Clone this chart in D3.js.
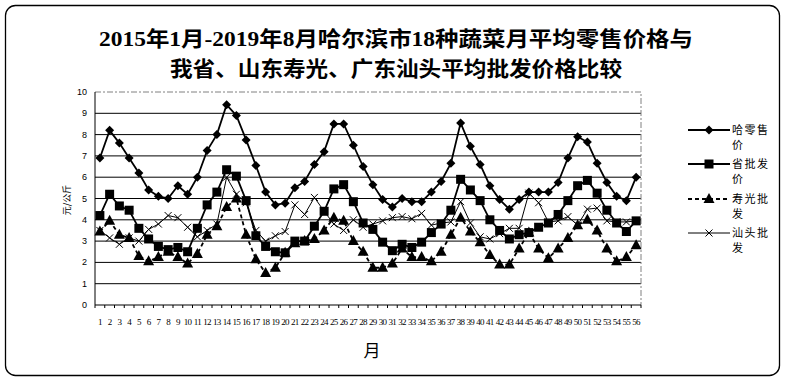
<!DOCTYPE html>
<html>
<head>
<meta charset="utf-8">
<script src="https://cdn.jsdelivr.net/npm/d3@7/dist/d3.min.js"></script>
<style>
  body { margin: 0; background: #fff; }
</style>
</head>
<body>
<svg id="chart" width="785" height="382"></svg>
<script>
// month index labels 1..56 (Jan 2015 - Aug 2019)
var months = d3.range(1, 57);

var retailHrb = [6.9, 8.2, 7.6, 6.9, 6.2, 5.4, 5.1, 5.0, 5.6, 5.2, 6.0, 7.25, 8.0, 9.4, 8.9, 7.75, 6.55, 5.3, 4.7, 4.78,
  5.5, 5.8, 6.6, 7.2, 8.5, 8.5, 7.5, 6.5, 5.65, 4.95, 4.6, 5.0, 4.85, 4.85, 5.3, 5.8, 6.65, 8.55, 7.45, 6.6,
  5.6, 4.95, 4.5, 4.95, 5.3, 5.3, 5.3, 5.75, 6.9, 7.9, 7.65, 6.65, 5.75, 5.1, 4.9, 6.0];

var wholesaleProv = [4.2, 5.2, 4.65, 4.45, 3.6, 3.1, 2.75, 2.6, 2.7, 2.5, 3.6, 4.7, 5.3, 6.35, 6.05, 4.9, 3.25, 2.75, 2.5, 2.45,
  3.0, 3.0, 3.7, 4.4, 5.45, 5.65, 4.85, 3.85, 3.55, 2.95, 2.55, 2.85, 2.7, 2.95, 3.4, 3.8, 4.45, 5.9, 5.4, 4.9,
  4.0, 3.5, 3.1, 3.3, 3.4, 3.65, 3.85, 4.25, 4.9, 5.6, 5.85, 5.25, 4.45, 3.85, 3.45, 3.95];

var wholesaleShouguang = [3.45, 3.95, 3.3, 3.15, 2.3, 2.05, 2.25, 2.5, 2.25, 1.95, 2.4, 3.3, 3.7, 4.6, 5.0, 3.3, 2.15, 1.5, 1.75, 2.45,
  2.9, 3.0, 3.1, 3.5, 4.1, 3.95, 3.0, 2.5, 1.75, 1.75, 1.95, 2.65, 2.25, 2.25, 2.05, 2.5, 3.3, 4.1, 3.45, 2.95,
  2.35, 1.9, 1.9, 2.65, 3.4, 2.65, 2.2, 2.65, 3.15, 3.75, 4.0, 3.5, 2.65, 2.05, 2.25, 2.8];

var wholesaleShantou = [3.5, 3.15, 2.85, 3.15, 3.0, 3.55, 3.8, 4.2, 4.1, 3.65, 3.2, 3.5, 3.8, 6.0, 5.2, 4.8, 3.5, 3.0, 3.25, 3.45,
  4.7, 4.25, 5.05, 4.4, 3.8, 3.5, 4.0, 3.65, 3.8, 3.95, 4.1, 4.15, 4.05, 4.3, 3.75, 3.85, 3.9, 4.85, 3.85, 3.2,
  3.1, 3.35, 3.6, 3.6, 5.25, 4.8, 3.9, 3.95, 4.15, 3.75, 4.5, 4.55, 3.95, 3.9, 3.9, 3.95];

var seriesNames = ["哈零售价", "省批发价", "寿光批发", "汕头批发"];
var yTicks = [0, 1, 2, 3, 4, 5, 6, 7, 8, 9, 10];

var titleLines = ["2015年1月-2019年8月哈尔滨市18种蔬菜月平均零售价格与", "我省、山东寿光、广东汕头平均批发价格比较"];

var svg = d3.select("#chart");

// outer frame
svg.append("rect")
  .attr("x", 5.5).attr("y", 5.5)
  .attr("width", 774).attr("height", 370)
  .attr("rx", 10).attr("ry", 10)
  .attr("fill", "#fff")
  .attr("stroke", "#000")
  .attr("stroke-width", 1.3);

// title
svg.selectAll(".title")
  .data(titleLines)
  .enter().append("text")
  .attr("class", "title")
  .attr("x", 396)
  .attr("y", function(d, i) { return 46 + i * 30; })
  .attr("text-anchor", "middle")
  .attr("font-family", "'Liberation Serif', 'Noto Sans CJK SC', serif")
  .attr("font-weight", "bold")
  .attr("font-size", 21)
  .attr("textLength", function(d, i) { return i == 0 ? 594 : 452; })
  .attr("lengthAdjust", "spacingAndGlyphs")
  .text(function(d) { return d; });

var plotL = 95, plotR = 641, plotT = 92, plotB = 305;

var x = d3.scaleBand()
  .domain(months)
  .range([plotL, plotR])
  .padding(0);

var y = d3.scaleLinear()
  .domain([0, 10])
  .range([plotB, plotT]);

var cx = function(i) { return x(months[i]) + x.bandwidth() / 2; };

// grid lines
svg.append("g")
  .selectAll("line")
  .data(yTicks.filter(function(t) { return t > 0 && t < 10; }))
  .enter().append("line")
  .attr("x1", plotL).attr("x2", plotR)
  .attr("y1", function(d) { return y(d); })
  .attr("y2", function(d) { return y(d); })
  .attr("stroke", "#000")
  .attr("stroke-width", 1);

// dashed plot border (top and right)
svg.append("path")
  .attr("d", "M" + plotL + "," + y(10) + "H" + plotR + "V" + plotB)
  .attr("fill", "none")
  .attr("stroke", "#808080")
  .attr("stroke-width", 1)
  .attr("stroke-dasharray", "6,2,2,2");

// y axis
svg.append("line")
  .attr("x1", plotL).attr("x2", plotL)
  .attr("y1", plotT).attr("y2", plotB)
  .attr("stroke", "#000");

svg.append("g")
  .selectAll("text")
  .data(yTicks)
  .enter().append("text")
  .attr("x", 87)
  .attr("y", function(d) { return y(d) + 3; })
  .attr("text-anchor", "end")
  .attr("font-family", "'Liberation Sans', Arial, sans-serif")
  .attr("font-size", 9)
  .text(function(d) { return d; });

svg.append("text")
  .attr("transform", "translate(70,200) rotate(-90)")
  .attr("text-anchor", "middle")
  .attr("font-family", "'Noto Sans CJK SC', sans-serif")
  .attr("font-size", 9)
  .text("元/公斤");

// x axis
svg.append("line")
  .attr("x1", plotL).attr("x2", plotR)
  .attr("y1", plotB).attr("y2", plotB)
  .attr("stroke", "#000")
  .attr("stroke-width", 1.2);

svg.append("g")
  .selectAll("line")
  .data(months.concat([57]))
  .enter().append("line")
  .attr("x1", function(d) { return d == 57 ? plotR : x(d); })
  .attr("x2", function(d) { return d == 57 ? plotR : x(d); })
  .attr("y1", plotB).attr("y2", plotB + 3)
  .attr("stroke", "#000");

svg.append("g")
  .selectAll("text")
  .data(months)
  .enter().append("text")
  .attr("x", function(d) { return x(d) + x.bandwidth() / 2; })
  .attr("y", 325)
  .attr("text-anchor", "middle")
  .attr("font-family", "'Liberation Serif', serif")
  .attr("font-size", 9)
  .attr("letter-spacing", -0.6)
  .text(function(d) { return d; });

svg.append("text")
  .attr("x", 372)
  .attr("y", 357)
  .attr("text-anchor", "middle")
  .attr("font-family", "'Noto Sans CJK SC', serif")
  .attr("font-size", 17)
  .text("月");

// markers
function drawMarker(g, kind, px, py) {
  if (kind == "diamond") {
    g.append("path")
      .attr("d", "M" + px + "," + (py - 4.5) + "L" + (px + 4.5) + "," + py + "L" + px + "," + (py + 4.5) + "L" + (px - 4.5) + "," + py + "Z")
      .attr("fill", "#000");
  } else if (kind == "square") {
    g.append("rect")
      .attr("x", px - 4.5).attr("y", py - 4.5)
      .attr("width", 9).attr("height", 9)
      .attr("fill", "#000");
  } else if (kind == "triangle") {
    g.append("path")
      .attr("d", "M" + px + "," + (py - 6) + "L" + (px + 5.5) + "," + (py + 4) + "L" + (px - 5.5) + "," + (py + 4) + "Z")
      .attr("fill", "#000");
  } else if (kind == "cross") {
    g.append("path")
      .attr("d", "M" + (px - 3.5) + "," + (py - 3.5) + "L" + (px + 3.5) + "," + (py + 3.5) +
        "M" + (px - 3.5) + "," + (py + 3.5) + "L" + (px + 3.5) + "," + (py - 3.5))
      .attr("stroke", "#000")
      .attr("stroke-width", 1)
      .attr("fill", "none");
  }
}

var series = [
  { name: seriesNames[0], values: retailHrb, marker: "diamond", width: 1.8, dash: null },
  { name: seriesNames[1], values: wholesaleProv, marker: "square", width: 1.8, dash: null },
  { name: seriesNames[2], values: wholesaleShouguang, marker: "triangle", width: 1.8, dash: "4,3" },
  { name: seriesNames[3], values: wholesaleShantou, marker: "cross", width: 1, dash: null }
];

var line = d3.line()
  .x(function(d, i) { return cx(i); })
  .y(function(d) { return y(d); });

series.forEach(function(s) {
  var g = svg.append("g");
  g.append("path")
    .attr("d", line(s.values))
    .attr("fill", "none")
    .attr("stroke", "#000")
    .attr("stroke-width", s.width)
    .attr("stroke-dasharray", s.dash);
  s.values.forEach(function(v, i) {
    drawMarker(g, s.marker, cx(i), y(v));
  });
});

// legend (names wrap after 3 chars, like the original)
var legendY = [130, 164, 199, 233];
series.forEach(function(s, i) {
  var g = svg.append("g");
  var ly = legendY[i];
  g.append("line")
    .attr("x1", 688).attr("x2", 730)
    .attr("y1", ly).attr("y2", ly)
    .attr("stroke", "#000")
    .attr("stroke-width", s.width)
    .attr("stroke-dasharray", s.dash);
  drawMarker(g, s.marker, 709, ly);
  g.append("text")
    .attr("x", 732)
    .attr("y", ly + 4)
    .attr("font-family", "'Noto Sans CJK SC', sans-serif")
    .attr("font-size", 11)
    .attr("letter-spacing", 1.5)
    .selectAll("tspan")
    .data([s.name.slice(0, 3), s.name.slice(3)])
    .enter().append("tspan")
    .attr("x", 732)
    .attr("dy", function(d, k) { return k == 0 ? 0 : 15; })
    .text(function(d) { return d; });
});
</script>
</body>
</html>
